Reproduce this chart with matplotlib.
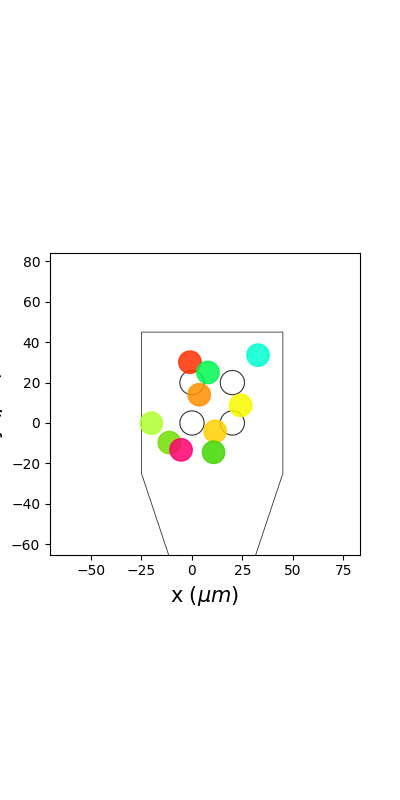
import matplotlib
matplotlib.use("Agg")
import matplotlib.pyplot as plt
from matplotlib.patches import Circle, Polygon

# probe outline (µm)
probe_x = [0, -25, -25, 45, 45, 20]
probe_y = [-100, -25, 45, 45, -25, -100]

# electrode centres (µm)
elec_x = [0, 20, 0, 20]
elec_y = [0, 0, 20, 20]
elec_r = 6

# neuron positions (µm) and colours
neuron_x = [-1.0, 7.9, 32.7, 3.6, 24.1, 11.5, -20.1, -11.2, -5.4, 10.7]
neuron_y = [30.1, 25.0, 33.6, 14.0, 8.7, -4.1, -0.1, -9.7, -13.3, -14.5]
neuron_colors = ['#ff3000', '#00f850', '#00ffd0', '#ff9000', '#f8f800',
                 '#ffd000', '#b0ff30', '#70e000', '#ff0070', '#40d800']

fig = plt.figure(figsize=(4, 8), dpi=100)
ax = fig.add_subplot(111)

ax.add_patch(Polygon(list(zip(probe_x, probe_y)), closed=True, fill=False,
                     edgecolor='#333333', linewidth=0.6))
for x, y in zip(elec_x, elec_y):
    ax.add_patch(Circle((x, y), elec_r, fill=False, edgecolor='#333333', linewidth=0.8))

ax.scatter(neuron_x, neuron_y, c=neuron_colors, s=260, alpha=0.85, zorder=3)

ax.set_xlim(-70.3, 83.2)
ax.set_ylim(-65.2, 84.0)
ax.set_aspect('equal')
ax.set_xticks([-50, -25, 0, 25, 50, 75])
ax.set_yticks([-60, -40, -20, 0, 20, 40, 60, 80])
ax.set_xlabel(r'x ($\mu m$)', fontsize=15)
ax.set_ylabel(r'y ($\mu m$)', fontsize=15)

fig.savefig('out.png', dpi=100)
